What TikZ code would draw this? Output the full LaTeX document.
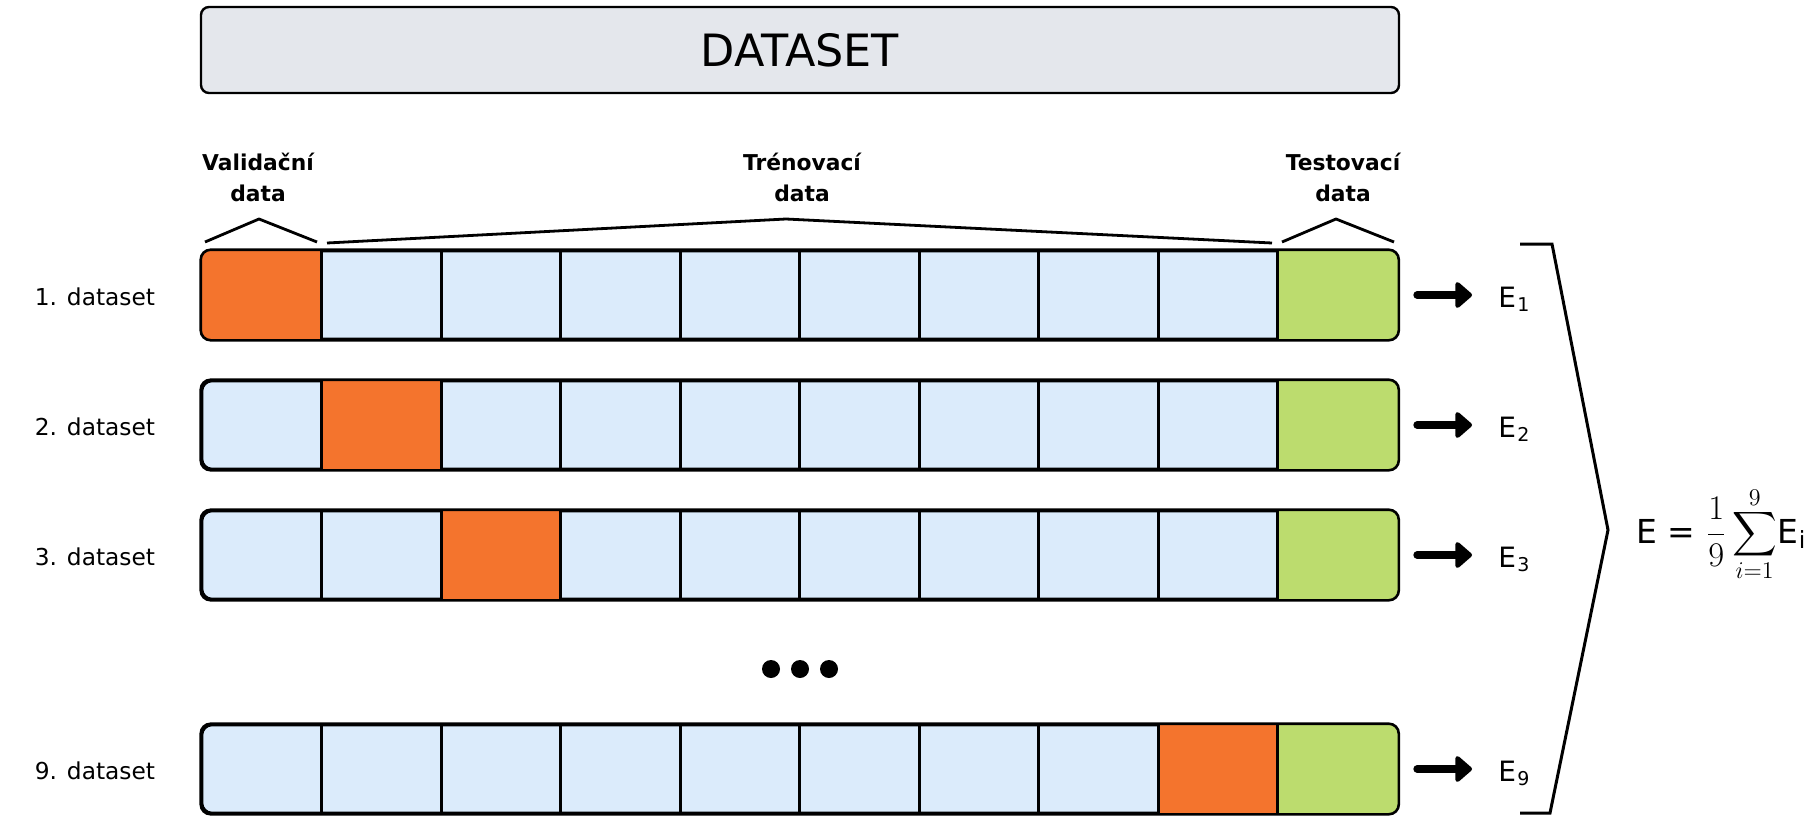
\documentclass[tikz,border=0pt]{standalone}
\usepackage{fontspec}
\setmainfont{DejaVu Sans}
\usetikzlibrary{arrows.meta,calc}
\definecolor{cellblue}{HTML}{DBEBFB}
\definecolor{valorange}{HTML}{F4742D}
\definecolor{testgreen}{HTML}{BCDC6E}
\definecolor{dsgray}{HTML}{E4E7EC}
\newcommand{\Elab}[1]{{\fontsize{14}{16}\selectfont E}\kern0.6pt\raisebox{-2pt}{\fontsize{9.5}{10}\selectfont #1}}
\begin{document}
\begin{tikzpicture}[x=0.5pt,y=-0.5pt,
  rowbox/.style={draw, line width=1.3pt, fill=cellblue, rounded corners=5pt, minimum width=597.75pt, minimum height=44pt, inner sep=0},
  divider/.style={line width=1.5pt},
  rowlbl/.style={anchor=base west, inner sep=0, font=\fontsize{11.65}{14}\selectfont},
  toplbl/.style={anchor=south, inner sep=0, align=center, font=\fontsize{10.9}{15.75}\selectfont\bfseries},
  brk/.style={line width=1.4pt, line join=round},
  bigarrow/.style={line width=4pt, line cap=round, -{Triangle[length=9pt,width=15pt,round]}},
  elbl/.style={anchor=base west, inner sep=0}
]
\useasboundingbox (0,0) rectangle (1820,830);

\node[draw, line width=1.2pt, fill=dsgray, rounded corners=4pt, minimum width=599pt, minimum height=43pt, inner sep=0, font=\fontsize{22.25}{26}\selectfont] (ds) at (800,50) {DATASET};

\node[toplbl] (lv) at (258,202.5) {Validační\\data};
\node[toplbl] (lt) at (802,202.5) {Trénovací\\data};
\node[toplbl] (lx) at (1343,202.5) {Testovací\\data};

\draw[brk] (205,242) -- (259,219) -- (317,242);
\draw[brk] (327,243) -- (786,219) -- (1272,243);
\draw[brk] (1282,242) -- (1336,219) -- (1394,242);

\foreach \n/\yc/\o in {1/295/1, 2/425/2, 3/555/3, 9/769/9} {
  \node[rowbox] (r\n) at (799.75,\yc) {};
  \begin{scope}
    \clip[rounded corners=5pt] (r\n.north west) rectangle (r\n.south east);
    \fill[valorange] (202+119.55*\o-119.55, \yc-44) rectangle (202+119.55*\o, \yc+44);
    \fill[testgreen] (1278, \yc-44) rectangle (1398,\yc+44);
  \end{scope}
  \foreach \k in {1,...,9} \draw[divider] (202+119.55*\k, \yc-44) -- (202+119.55*\k, \yc+44);
  \draw[line width=1.3pt, rounded corners=5pt] (r\n.north west) rectangle (r\n.south east);
  \node[rowlbl] (d\n) at (34.5,\yc+10) {\n. dataset};
  \node[elbl] (e\n) at (1498,\yc+12) {\Elab{\n}};
  \draw[bigarrow] ($(r\n.east)+(9.25pt,0)$) -- ($(e\n.west |- r\n.east)+(-13pt,0)$);
}

\foreach \x in {771,800,829} \fill (\x,669) circle[radius=4.5pt];

\draw[line width=1.5pt] (1520,244) -- (1552,244) -- (1608,530) -- (1550,813) -- (1520,813);

\node[anchor=base west, inner sep=0, font=\fontsize{16.5}{20}\selectfont] (eq) at (1636,543) {E = \fontsize{18.5}{22}\selectfont$\displaystyle\frac{1}{9}\mathop{\vcenter{\hbox{\scalebox{1.55}{$\displaystyle\sum$}}}}\limits_{i=1}^{9}$\fontsize{16.5}{20}\selectfont E\kern0.5pt\raisebox{-2.5pt}{\fontsize{11.8}{12}\selectfont i}};
\end{tikzpicture}
\end{document}
